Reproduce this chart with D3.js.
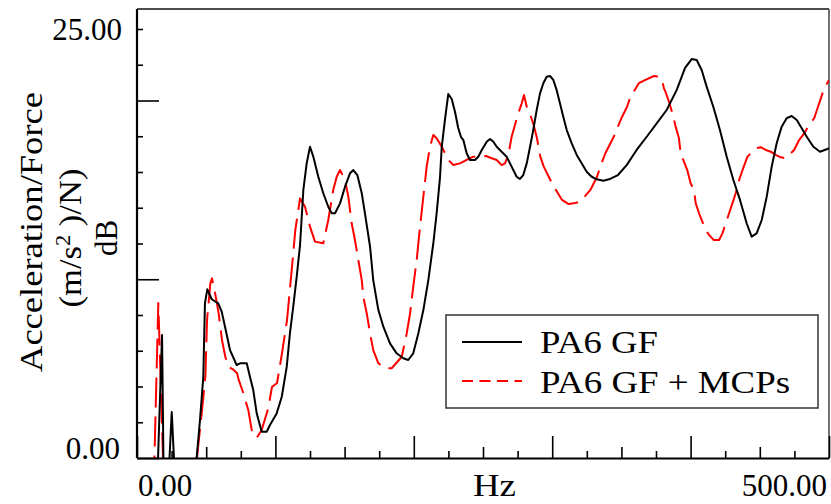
<!DOCTYPE html>
<html>
<head>
<meta charset="utf-8">
<script src="https://cdn.jsdelivr.net/npm/d3@7"></script>
<style>
  body { margin: 0; background: #fff; }
  svg { display: block; }
  text { font-family: "Liberation Serif", "Times New Roman", serif; fill: #000; }
</style>
</head>
<body>
<svg id="chart" width="831" height="504"></svg>
<script>
// Frequency response function, acceleration/force in dB, 0–500 Hz
const seriesNames = ["PA6 GF", "PA6 GF + MCPs"];
const xEndLabels = ["0.00", "500.00"];
const yEndLabels = ["0.00", "25.00"];
const xAxisTitle = "Hz";

// [frequency Hz, level dB]
const pa6gf = [
  [0,-0.8],[9.4,-0.8],[15.2,0],[18.1,7.17],[19.1,0],[21.0,-0.8],[23.5,0],[25.1,2.68],[26.7,0],
  [31.1,-0.8],[39.7,-0.8],[43.1,0],[45.5,2.21],[47.9,4.72],[49.1,9.03],[50.8,9.83],[54.0,9.25],
  [58.7,9.01],[61.2,8.53],[63.6,7.65],[67.2,6.29],[72.0,5.42],[74.4,5.52],[79.3,5.52],[81.6,4.74],
  [84.0,3.96],[86.5,2.60],[90.1,1.53],[93.7,1.53],[96.1,1.92],[100.9,2.60],[104.6,3.57],[108.2,5.32],
  [110.5,7.27],[112.9,8.82],[115.4,10.57],[117.8,12.41],[120.2,15.62],[122.6,17.17],[125.0,18.14],
  [127.4,17.56],[131.0,16.39],[134.6,15.43],[138.2,14.64],[140.7,14.26],[143.1,14.26],[146.7,14.84],
  [150.3,15.81],[153.9,16.59],[156.3,16.78],[159.2,16.49],[162.4,15.43],[164.7,14.26],[168.4,12.31],
  [170.7,10.37],[174.4,8.62],[178.0,7.65],[182.8,6.68],[187.6,6.10],[192.4,5.81],[196.0,5.71],
  [199.6,6.10],[203.3,7.27],[206.9,8.62],[210.5,10.37],[214.1,12.51],[216.5,14.26],[218.9,16.32],
  [220.2,18.14],[222.5,19.70],[224.9,21.21],[227.4,20.92],[229.8,20.16],[232.1,19.23],[234.1,18.71],
  [235.8,18.53],[238.2,17.76],[240.6,17.37],[244.2,17.37],[246.6,17.56],[249.1,17.95],[252.7,18.43],
  [255.1,18.59],[257.5,18.43],[259.9,18.14],[263.5,17.85],[267.1,17.56],[269.5,17.17],[271.9,16.78],
  [274.3,16.39],[276.7,16.26],[279.1,16.49],[281.6,17.17],[284.0,18.14],[286.3,19.11],[288.8,20.28],
  [291.2,21.25],[293.6,21.84],[296.0,22.22],[298.4,22.26],[300.8,22.03],[303.2,21.45],[305.6,20.67],
  [308.0,19.89],[310.5,19.11],[314.1,18.34],[317.7,17.66],[321.3,17.17],[324.9,16.68],[328.5,16.39],
  [332.2,16.24],[336.9,16.16],[341.8,16.26],[347.5,16.49],[353.8,17.07],[361.0,17.95],[368.3,18.72],
  [375.5,19.50],[382.7,20.28],[390.0,21.45],[396.0,22.73],[400.8,23.25],[404.4,23.19],[408.0,22.61],
  [411.6,21.64],[416.4,20.47],[421.2,19.11],[426.1,17.56],[430.9,16.20],[435.7,15.04],[440.5,13.68],
  [444.1,12.90],[447.7,13.09],[451.4,13.87],[455.0,15.23],[458.6,16.98],[462.2,18.34],[465.8,19.31],
  [469.4,19.80],[473.0,19.93],[476.7,19.70],[480.3,19.21],[483.9,18.72],[488.7,18.14],[493.5,17.85],
  [498.3,17.99],[500,18.05]
];

const pa6gfMcp = [
  [0,-0.8],[9.4,-0.8],[12.6,0],[15.4,9.03],[18.8,0],[21.0,-0.8],[38.3,-0.8],[43.4,0.08],[47.0,2.80],
  [49.4,4.74],[50.6,8.04],[53.0,10.18],[54.2,10.47],[56.4,9.62],[59.0,8.43],[61.4,6.88],[63.8,5.90],
  [66.1,5.32],[69.9,5.13],[72.3,4.94],[73.5,4.55],[76.8,3.79],[80.4,2.80],[82.9,1.63],[86.5,1.17],
  [90.1,1.63],[94.9,2.91],[97.5,4.14],[101.2,4.37],[104.8,6.12],[108.4,8.04],[111.8,10.96],
  [114.4,13.29],[117.8,15.13],[121.4,14.64],[125.0,13.48],[128.6,12.61],[134.6,12.51],[138.2,13.87],
  [141.8,15.62],[144.3,16.39],[146.7,16.78],[150.3,16.20],[152.7,15.23],[155.1,13.68],[157.5,12.70],
  [159.9,11.54],[162.4,10.37],[163.5,9.40],[166.0,8.43],[168.4,7.27],[170.7,6.29],[174.4,5.52],
  [179.2,5.23],[184.0,5.23],[191.3,5.90],[194.9,7.27],[197.3,8.43],[199.6,9.98],[202.1,11.54],
  [204.5,13.48],[206.9,15.23],[209.3,16.98],[211.7,18.14],[214.1,18.82],[216.5,18.63],[220.2,18.14],
  [224.9,17.37],[228.6,17.07],[233.4,17.17],[238.2,17.37],[243.0,17.56],[247.8,17.54],[252.2,17.60],
  [256.3,17.47],[259.9,17.37],[263.5,17.07],[265.9,17.17],[268.3,17.66],[270.7,18.72],[273.1,19.41],
  [275.5,20.09],[278.0,20.67],[279.6,21.15],[281.8,20.40],[284.2,19.99],[286.6,19.41],[289.0,18.63],
  [291.4,17.56],[293.9,16.98],[297.5,16.39],[301.1,15.81],[303.5,15.52],[307.1,15.04],[311.9,14.80],
  [315.5,14.84],[320.3,14.94],[327.6,15.62],[332.4,16.39],[334.8,16.98],[338.4,17.76],[342.1,18.34],
  [344.5,18.72],[346.9,19.21],[350.5,19.89],[354.1,20.47],[356.5,21.04],[362.6,21.84],[367.4,22.03],
  [373.5,22.26],[377.1,22.23],[379.5,21.97],[380.7,21.56],[381.9,21.33],[384.4,20.76],[386.8,20.09],
  [389.2,19.31],[391.6,18.63],[392.8,17.76],[395.2,17.27],[397.6,16.78],[400.0,16.01],[402.5,15.62],
  [403.7,14.84],[406.1,14.26],[408.5,13.77],[410.9,13.29],[413.3,13.00],[416.8,12.70],[420.6,12.70],
  [423.0,13.09],[425.4,13.68],[427.8,14.26],[430.2,14.84],[432.6,15.43],[435.1,16.20],[437.5,16.78],
  [441.1,17.56],[447.1,18.05],[450.7,18.11],[454.3,17.95],[457.9,17.85],[461.5,17.66],[465.2,17.52],
  [468.8,17.47],[474.8,17.95],[478.4,18.53],[482.1,18.92],[485.7,19.41],[489.3,19.80],[491.7,20.38],
  [494.1,20.96],[496.5,21.55],[500,22.03]
];

const plotLeft = 137, plotRight = 829, plotTop = 9, plotBottom = 458;

const svg = d3.select("#chart");

// 12 minor divisions between 0 and 25 dB; the frame runs a little above 25
const yStep = 25 / 12;
const x = d3.scaleLinear().domain([0, 500]).range([plotLeft, plotRight]);
const y = d3.scaleLinear().domain([0, 25]).range([plotBottom, plotBottom - 12 * 35.75]);

svg.append("defs").append("clipPath").attr("id", "plotClip")
  .append("rect").attr("x", plotLeft).attr("y", plotTop)
  .attr("width", plotRight - plotLeft).attr("height", plotBottom - plotTop);

// frame: top and right edges
svg.append("line").attr("x1", plotLeft).attr("x2", plotRight).attr("y1", plotTop).attr("y2", plotTop)
  .attr("stroke", "#111").attr("stroke-width", 1.6);
svg.append("line").attr("x1", plotRight).attr("x2", plotRight).attr("y1", plotTop).attr("y2", plotBottom)
  .attr("stroke", "#444").attr("stroke-width", 1.5);

// curves
const line = d3.line().x(d => x(d[0])).y(d => y(d[1]));
const plot = svg.append("g").attr("clip-path", "url(#plotClip)");
plot.append("path").datum(pa6gfMcp).attr("d", line)
  .attr("fill", "none").attr("stroke", "#ff0000").attr("stroke-width", 2)
  .attr("stroke-dasharray", "30,9").attr("stroke-linejoin", "round");
plot.append("path").datum(pa6gf).attr("d", line)
  .attr("fill", "none").attr("stroke", "#000").attr("stroke-width", 2)
  .attr("stroke-linejoin", "round");

// x axis with inward ticks: 100 Hz long, 50 Hz medium, 25 Hz short
const xAxis = d3.axisBottom(x).tickValues(d3.range(0, 501, 25)).tickSize(0).tickFormat("");
const gx = svg.append("g").attr("transform", `translate(0,${plotBottom})`).call(xAxis);
gx.select(".domain").attr("stroke", "#000").attr("stroke-width", 2.2);
gx.selectAll(".tick line").attr("stroke", "#000").attr("stroke-width", 1.6)
  .attr("y2", d => -(d % 100 === 0 ? 22 : d % 50 === 0 ? 11 : 7));

// y axis with inward ticks
const yAxis = d3.axisLeft(y).tickValues(d3.range(0, 13).map(i => i * yStep)).tickSize(0).tickFormat("");
const gy = svg.append("g").attr("transform", `translate(${plotLeft},0)`).call(yAxis);
gy.select(".domain").attr("d", `M0,${plotBottom}V${plotTop}`).attr("stroke", "#000").attr("stroke-width", 2.2);
gy.selectAll(".tick line").attr("stroke", "#000").attr("stroke-width", 1.6)
  .attr("x2", (d, i) => (i % 5 === 0 ? 22 : 6));

// end labels
svg.append("text").attr("x", x(0) + 1).attr("y", 496).attr("font-size", 31).text(xEndLabels[0]);
svg.append("text").attr("x", x(500) - 2).attr("y", 496).attr("font-size", 31)
  .attr("text-anchor", "end").text(xEndLabels[1]);
svg.append("text").attr("x", 473).attr("y", 496).attr("font-size", 31)
  .attr("textLength", 43).attr("lengthAdjust", "spacingAndGlyphs").text(xAxisTitle);
svg.append("text").attr("x", plotLeft - 17).attr("y", y(0) + 1).attr("font-size", 31)
  .attr("text-anchor", "end").text(yEndLabels[0]);
svg.append("text").attr("x", plotLeft - 15).attr("y", y(25) + 11).attr("font-size", 31)
  .attr("text-anchor", "end").text(yEndLabels[1]);

// y axis title, three centred lines
const yTitle = svg.append("g");
yTitle.append("text").attr("transform", "translate(42,232) rotate(-90)")
  .attr("text-anchor", "middle").attr("font-size", 31)
  .attr("textLength", 280).attr("lengthAdjust", "spacingAndGlyphs")
  .text("Acceleration/Force");
const unit = yTitle.append("text").attr("transform", "translate(81,238) rotate(-90)")
  .attr("text-anchor", "middle").attr("font-size", 31)
  .attr("textLength", 139).attr("lengthAdjust", "spacingAndGlyphs");
unit.append("tspan").text("(m/s");
unit.append("tspan").attr("dy", -11).attr("font-size", 20).text("2");
unit.append("tspan").attr("dy", 11).text(" )/N)");
yTitle.append("text").attr("transform", "translate(117,238) rotate(-90)")
  .attr("text-anchor", "middle").attr("font-size", 31).text("dB");

// legend
const lg = svg.append("g");
lg.append("rect").attr("x", 446).attr("y", 315).attr("width", 372).attr("height", 93)
  .attr("fill", "#fff").attr("stroke", "#333").attr("stroke-width", 1.5);
lg.append("line").attr("x1", 462).attr("x2", 522).attr("y1", 342).attr("y2", 342)
  .attr("stroke", "#000").attr("stroke-width", 2);
lg.append("line").attr("x1", 462).attr("x2", 522).attr("y1", 381).attr("y2", 381)
  .attr("stroke", "#ff0000").attr("stroke-width", 2).attr("stroke-dasharray", "11,6.5");
lg.append("text").attr("x", 540).attr("y", 353).attr("font-size", 31)
  .attr("textLength", 118).attr("lengthAdjust", "spacingAndGlyphs").text(seriesNames[0]);
lg.append("text").attr("x", 540).attr("y", 393).attr("font-size", 31)
  .attr("textLength", 250).attr("lengthAdjust", "spacingAndGlyphs").text(seriesNames[1]);
</script>
</body>
</html>
